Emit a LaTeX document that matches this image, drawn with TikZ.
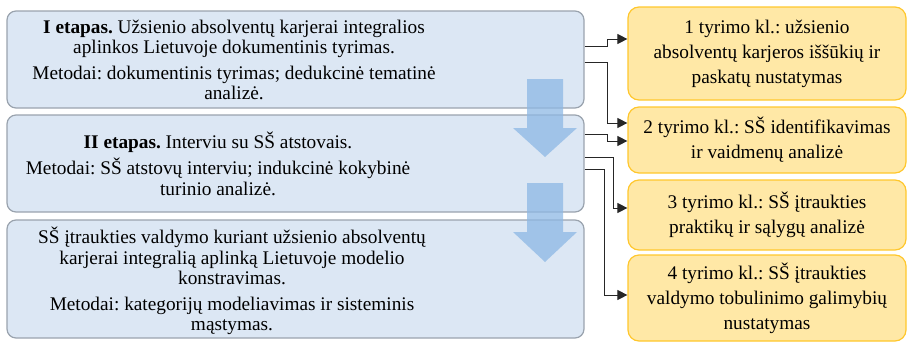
\documentclass[tikz,border=0pt]{standalone}
\usepackage{fontspec}
\setmainfont{Liberation Serif}
\newfontfamily\timesfont{Liberation Serif}
\usetikzlibrary{arrows.meta}
\definecolor{stagefill}{HTML}{DCE7F4}
\definecolor{stageline}{HTML}{9AA3AE}
\definecolor{taskfill}{HTML}{FFE8A6}
\definecolor{taskline}{HTML}{FFC72C}
\definecolor{flow}{HTML}{8DB8E4}
\frenchspacing
\begin{document}
\begin{tikzpicture}[x=1pt,y=-1pt,
  stage/.style={draw=stageline, fill=stagefill, line width=1.2pt, rounded corners=9pt, inner sep=0pt},
  stagetext/.style={align=center, inner sep=0pt, font=\timesfont\fontsize{19.3}{20.5}\selectfont},
  task/.style={draw=taskline, fill=taskfill, line width=1.2pt, rounded corners=11pt, inner sep=0pt,
    align=center, font=\timesfont\fontsize{19.3}{25}\selectfont, minimum width=278pt},
  conn/.style={line width=1pt, draw=black!85, -{Triangle[length=10pt,width=10pt]}},
  flowarrow/.style={fill=flow, fill opacity=0.75, draw=none}
]
\useasboundingbox (0,0) rectangle (908,343);

% research stages
\node[stage, minimum width=577pt, minimum height=97pt] (b1) at (295.5,59.5) {};
\node[stage, minimum width=577pt, minimum height=97pt] (b2) at (295.5,163.5) {};
\node[stage, minimum width=577pt, minimum height=118pt] (b3) at (295.5,279) {};

\node[stagetext] (t1) at (234,60) {\textbf{I etapas.} Užsienio absolventų karjerai integralios\\
  aplinkos Lietuvoje dokumentinis tyrimas.\\[5pt]
  Metodai: dokumentinis tyrimas; dedukcinė tematinė\\ analizė.};
\node[stagetext] (t2) at (218,163.5) {\textbf{II etapas.} Interviu su SŠ atstovais.\\[5pt]
  Metodai: SŠ atstovų interviu; indukcinė kokybinė\\ turinio analizė.};
\node[stagetext] (t3) at (232,281) {SŠ įtraukties valdymo kuriant užsienio absolventų\\
  karjerai integralią aplinką Lietuvoje modelio\\ konstravimas.\\[5pt]
  Metodai: kategorijų modeliavimas ir sisteminis\\ mąstymas.};

% flow arrows between stages
\fill[flowarrow] (527,79) -- (563,79) -- (563,128) -- (577,128) -- (545,157) -- (513,128) -- (527,128) -- cycle;
\fill[flowarrow] (527,183) -- (563,183) -- (563,232) -- (577,232) -- (545,262) -- (513,232) -- (527,232) -- cycle;

% research tasks
\node[task, minimum height=93pt] (q1) at (767,53.5) {1 tyrimo kl.: užsienio\\ absolventų karjeros iššūkių ir\\ paskatų nustatymas};
\node[task, minimum height=66pt] (q2) at (767,140) {2 tyrimo kl.: SŠ identifikavimas\\ ir vaidmenų analizė};
\node[task, minimum height=70pt] (q3) at (767,215) {3 tyrimo kl.: SŠ įtraukties\\ praktikų ir sąlygų analizė};
\node[task, minimum height=86pt] (q4) at (767,298) {4 tyrimo kl.: SŠ įtraukties\\ valdymo tobulinimo galimybių\\ nustatymas};

% links from stages to tasks
\draw[conn] (b1.east |- 0,46) -- (607,46) -- (607,39) -- (q1.west |- 0,39);
\draw[conn] (b1.east |- 0,62) -- (607,62) -- (607,123) -- (q2.west |- 0,123);
\draw[conn] (b2.east |- 0,134) -- (607,134) -- (607,141) -- (q2.west |- 0,141);
\draw[conn] (b2.east |- 0,157) -- (613,157) -- (613,208) -- (q3.west |- 0,208);
\draw[conn] (b2.east |- 0,169) -- (604,169) -- (604,295) -- (q4.west |- 0,295);
\end{tikzpicture}
\end{document}
